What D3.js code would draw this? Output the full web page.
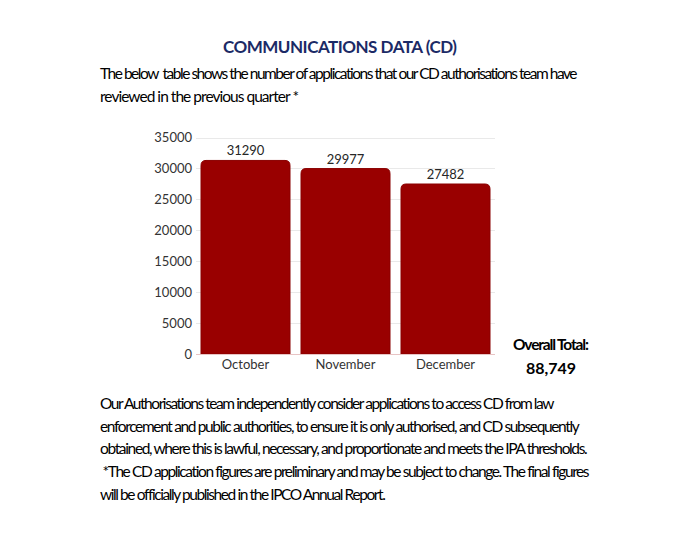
<!DOCTYPE html>
<html>
    <head>
        <meta charset="utf-8" />
        <title>Communications Data (CD)</title>
        <style type="text/css">
            body {
                margin: 0;
                background-color: #fff;
            }
            svg text {
                font-family: Lato, "Open Sans", sans-serif;
            }
            .grid line {
                stroke: #e9e9e9;
                stroke-width: 1px;
            }
            .axis text {
                fill: #333;
                font-size: 13px;
            }
            .para {
                fill: #000;
                font-size: 15.5px;
            }
        </style>
        <script type="text/javascript" src="https://d3js.org/d3.v7.min.js"></script>
    </head>
    <body>
        <div id="chart"></div>

        <script type="text/javascript">
            // data
            var months = ["October", "November", "December"];
            var applications = [31290, 29977, 27482];
            var yTicks = [0, 5000, 10000, 15000, 20000, 25000, 30000, 35000];
            var totalLabel = "Overall Total:";
            var totalValue = "88,749";

            var titleText = "COMMUNICATIONS DATA (CD)";
            var introLines = [
                "The below  table shows the number of applications that our CD authorisations team have",
                "reviewed in the previous quarter *"
            ];
            var outroLines = [
                "Our Authorisations team independently consider applications to access CD from law",
                "enforcement and public authorities, to ensure it is only authorised, and CD subsequently",
                "obtained, where this is lawful, necessary, and proportionate and meets the IPA thresholds.",
                " *The CD application figures are preliminary and may be subject to change. The final figures",
                "will be officially published in the IPCO Annual Report."
            ];

            var width = 680,
                height = 535;

            var svg = d3
                .select("#chart")
                .append("svg")
                .attr("width", width)
                .attr("height", height);

            // squeeze or spread a line to a target width with letter-spacing
            function fitWidth(sel, widths) {
                sel.each(function (d, i) {
                    var w = this.getComputedTextLength();
                    var n = d.length - 1;
                    var ls = (widths[i] - w) / n;
                    d3.select(this).style("letter-spacing", ls + "px");
                });
            }

            // title + intro
            svg.append("text")
                .attr("x", 223)
                .attr("y", 53)
                .style("font-size", "17px")
                .style("font-weight", "bold")
                .style("fill", "#1b2a66")
                .datum(titleText)
                .text(titleText)
                .call(fitWidth, [234]);

            var introW = [478, 199];
            svg.selectAll(".intro")
                .data(introLines)
                .enter()
                .append("text")
                .attr("class", "para")
                .attr("x", 100)
                .attr("y", function (d, i) {
                    return 79 + i * 23;
                })
                .style("white-space", "pre")
                .text(function (d) {
                    return d;
                })
                .call(fitWidth, introW);

            // chart
            var x = d3
                .scaleBand()
                .domain(months)
                .range([195.5, 495.5])
                .paddingInner(0.11)
                .paddingOuter(0.055);

            var y = d3.scaleLinear().domain([0, 35000]).range([354, 137.5]);

            svg.append("g")
                .attr("class", "grid")
                .selectAll("line")
                .data(yTicks.slice(1))
                .enter()
                .append("line")
                .attr("x1", 196)
                .attr("x2", 495)
                .attr("y1", function (d) {
                    return Math.round(y(d)) + 0.5;
                })
                .attr("y2", function (d) {
                    return Math.round(y(d)) + 0.5;
                });

            var yAxis = d3
                .axisLeft(y)
                .tickValues(yTicks)
                .tickFormat(d3.format("d"))
                .tickSize(0)
                .tickPadding(4);
            var yAxisG = svg
                .append("g")
                .attr("class", "axis")
                .attr("transform", "translate(196,0)")
                .call(yAxis);
            yAxisG.select(".domain").remove();

            var r = 5;
            svg.selectAll(".bar")
                .data(applications)
                .enter()
                .append("path")
                .attr("class", "bar")
                .attr("fill", "#990000")
                .attr("stroke", "#8a0000")
                .attr("stroke-width", 1)
                .attr("d", function (d, i) {
                    var x0 = x(months[i]),
                        x1 = x0 + x.bandwidth(),
                        y0 = y(0),
                        y1 = y(d);
                    return (
                        "M" + x0 + "," + y0 +
                        "V" + (y1 + r) +
                        "Q" + x0 + "," + y1 + " " + (x0 + r) + "," + y1 +
                        "H" + (x1 - r) +
                        "Q" + x1 + "," + y1 + " " + x1 + "," + (y1 + r) +
                        "V" + y0 + "Z"
                    );
                });

            svg.append("line")
                .attr("x1", 196)
                .attr("x2", 495)
                .attr("y1", 354.5)
                .attr("y2", 354.5)
                .attr("stroke", "#e8c4c4")
                .attr("stroke-width", 1);

            svg.selectAll(".vlabel")
                .data(applications)
                .enter()
                .append("text")
                .attr("class", "vlabel")
                .attr("x", function (d, i) {
                    return x(months[i]) + x.bandwidth() / 2;
                })
                .attr("y", function (d) {
                    return y(d) - 5;
                })
                .attr("text-anchor", "middle")
                .style("font-size", "13px")
                .style("fill", "#262626")
                .text(function (d) {
                    return d;
                });

            var xAxis = d3.axisBottom(x).tickSize(0).tickPadding(6);
            var xAxisG = svg
                .append("g")
                .attr("class", "axis")
                .attr("transform", "translate(0,354)")
                .call(xAxis);
            xAxisG.select(".domain").remove();

            // overall total
            svg.append("text")
                .attr("class", "para")
                .attr("x", 513)
                .attr("y", 350)
                .style("font-weight", "bold")
                .datum(totalLabel)
                .text(totalLabel)
                .call(fitWidth, [76]);

            svg.append("text")
                .attr("x", 551)
                .attr("y", 374)
                .attr("text-anchor", "middle")
                .style("font-size", "16px")
                .style("font-weight", "bold")
                .style("fill", "#000")
                .text(totalValue);

            // closing paragraph
            var outroW = [455, 480, 488, 489, 285];
            svg.selectAll(".outro")
                .data(outroLines)
                .enter()
                .append("text")
                .attr("class", "para")
                .attr("x", 100)
                .attr("y", function (d, i) {
                    return 409 + i * 22.7;
                })
                .style("white-space", "pre")
                .text(function (d) {
                    return d;
                })
                .call(fitWidth, outroW);
        </script>
    </body>
</html>
